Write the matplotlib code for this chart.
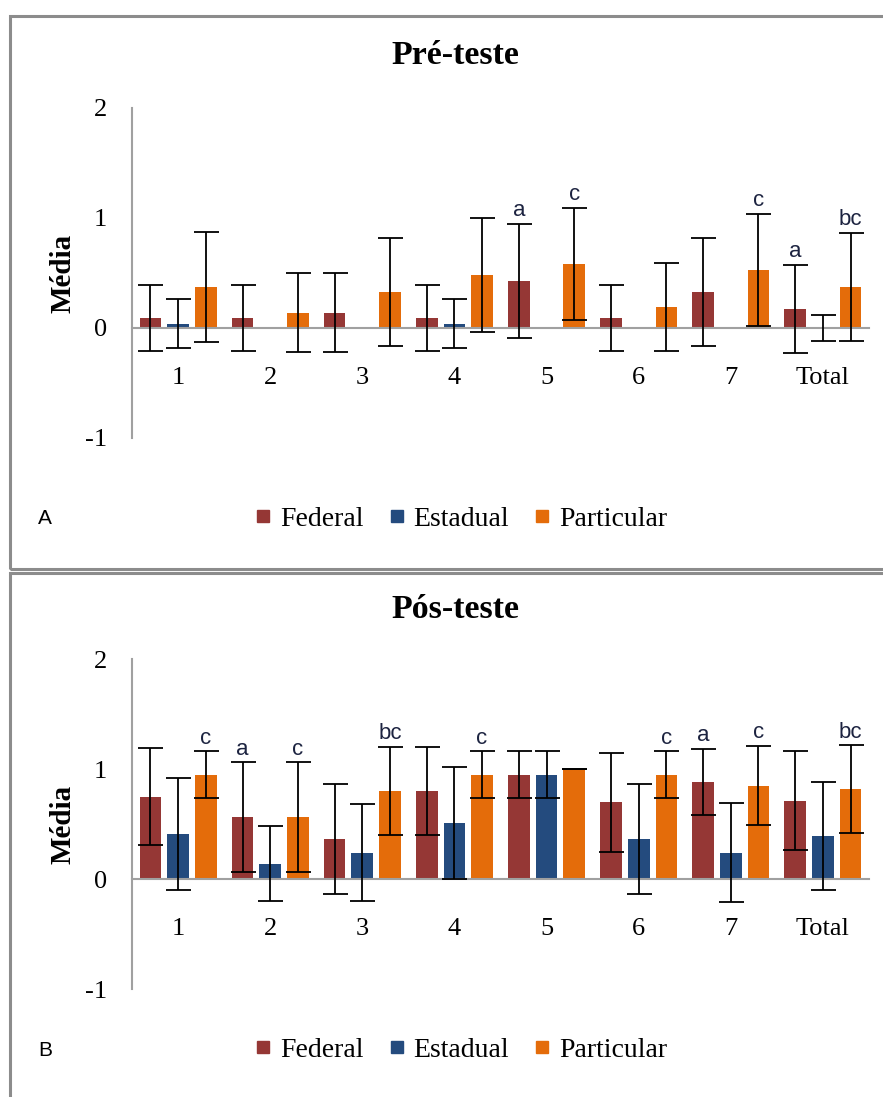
import numpy as np
import matplotlib
matplotlib.use('Agg')
import matplotlib.pyplot as plt
from matplotlib.lines import Line2D
from matplotlib.patches import Rectangle

groups = ['1', '2', '3', '4', '5', '6', '7', 'Total']
series = ['Federal', 'Estadual', 'Particular']
colors = ['#953735', '#244B7E', '#E46C0A']

# Pre-teste
pre_federal = [0.09, 0.09, 0.14, 0.09, 0.43, 0.09, 0.33, 0.175]
pre_federal_err = [0.30, 0.30, 0.36, 0.30, 0.52, 0.30, 0.49, 0.40]
pre_estadual = [0.04, 0, 0, 0.04, 0, 0, 0, 0]
pre_estadual_err = [0.22, 0, 0, 0.22, 0, 0, 0, 0.12]
pre_particular = [0.375, 0.14, 0.33, 0.48, 0.58, 0.19, 0.53, 0.375]
pre_particular_err = [0.50, 0.36, 0.49, 0.52, 0.51, 0.40, 0.51, 0.49]
pre_letters_federal = ['', '', '', '', 'a', '', '', 'a']
pre_letters_particular = ['', '', '', '', 'c', '', 'c', 'bc']

# Pos-teste
pos_federal = [0.75, 0.56, 0.36, 0.80, 0.95, 0.70, 0.88, 0.71]
pos_federal_err = [0.44, 0.50, 0.50, 0.40, 0.21, 0.45, 0.30, 0.45]
pos_estadual = [0.41, 0.14, 0.24, 0.51, 0.95, 0.36, 0.24, 0.39]
pos_estadual_err = [0.51, 0.34, 0.44, 0.51, 0.21, 0.50, 0.45, 0.49]
pos_particular = [0.95, 0.56, 0.80, 0.95, 1.00, 0.95, 0.85, 0.815]
pos_particular_err = [0.21, 0.50, 0.40, 0.21, 0.0, 0.21, 0.36, 0.40]
pos_letters_federal = ['', 'a', '', '', '', '', 'a', '']
pos_letters_particular = ['c', 'c', 'bc', 'c', '', 'c', 'c', 'bc']

panels = [
    ('Pré-teste', 'A', [pre_federal, pre_estadual, pre_particular],
     [pre_federal_err, pre_estadual_err, pre_particular_err],
     [pre_letters_federal, None, pre_letters_particular]),
    ('Pós-teste', 'B', [pos_federal, pos_estadual, pos_particular],
     [pos_federal_err, pos_estadual_err, pos_particular_err],
     [pos_letters_federal, None, pos_letters_particular]),
]

W, H = 883, 1097
fig = plt.figure(figsize=(W / 100, H / 100), dpi=100)
serif = 'Liberation Serif'
grey = '#A0A0A0'

# panel boxes and layout (pixel positions)
box_tops = [16, 573]
box_bottoms = [569, 1102]
axis_tops = [108, 659]   # y = 2
axis_bottoms = [438, 989]  # y = -1
title_y = [55, 610]
legend_y = [519, 1050]
ax_left, ax_right = 132, 869

x = np.arange(len(groups))
width = 0.235
offsets = [-0.3, 0, 0.3]

for i, (title, tag, values, errs, letters) in enumerate(panels):
    fig.patches.append(Rectangle((10 / W, 1 - box_bottoms[i] / H), (W + 10) / W,
                                 (box_bottoms[i] - box_tops[i]) / H,
                                 transform=fig.transFigure, fill=False,
                                 edgecolor='#8C8C8C', lw=2.2, zorder=0))

    ax = fig.add_axes([ax_left / W, 1 - axis_bottoms[i] / H, (ax_right - ax_left) / W,
                       (axis_bottoms[i] - axis_tops[i]) / H])
    # spine position first, it resets the ticks
    ax.spines['bottom'].set_position(('data', 0))
    ax.spines['top'].set_visible(False)
    ax.spines['right'].set_visible(False)
    ax.spines['bottom'].set_color(grey)
    ax.spines['bottom'].set_linewidth(1.5)
    ax.spines['left'].set_color(grey)
    ax.spines['left'].set_linewidth(1.5)

    for j in range(3):
        v = np.array(values[j])
        e = np.array(errs[j])
        ax.bar(x + offsets[j], v, width, color=colors[j], zorder=2)
        keep = (v != 0) | (e != 0)
        ax.errorbar(x[keep] + offsets[j], v[keep], yerr=e[keep], fmt='none',
                    ecolor='black', elinewidth=1.3, capsize=9, capthick=1.3, zorder=3)
        if letters[j] is not None:
            for k, lab in enumerate(letters[j]):
                if lab:
                    ax.annotate(lab, (x[k] + offsets[j], v[k] + e[k]), xytext=(0, 2),
                                textcoords='offset points', ha='center', va='bottom',
                                fontsize=16, family='Liberation Sans', color='#1c2340')

    ax.set_xlim(-0.5, len(groups) - 0.5)
    ax.set_ylim(-1, 2)
    ax.set_yticks([-1, 0, 1, 2])
    ax.set_yticklabels(['-1', '0', '1', '2'], family=serif, fontsize=19)
    ax.set_xticks(x)
    ax.set_xticklabels(groups, family=serif, fontsize=19)
    ax.tick_params(axis='y', length=0, pad=18)
    ax.tick_params(axis='x', length=0, pad=28)
    ax.set_ylabel('Média', family=serif, fontsize=21, fontweight='bold', labelpad=6)
    ax.patch.set_alpha(0)

    fig.text(455 / W, 1 - title_y[i] / H, title, family=serif, fontsize=24.5,
             fontweight='bold', ha='center', va='center')
    fig.text(38 / W, 1 - legend_y[i] / H, tag, family='Liberation Sans', fontsize=15,
             ha='left', va='center')

    handles = [Line2D([], [], marker='s', linestyle='none', markersize=9,
                      markerfacecolor=c, markeredgecolor=c) for c in colors]
    fig.legend(handles, series, loc='center', bbox_to_anchor=(461 / W, 1 - legend_y[i] / H),
               ncol=3, frameon=False, handlelength=0.6, handletextpad=0.3,
               columnspacing=0.9, prop={'family': serif, 'size': 20})

fig.savefig('out.png', dpi=100)
